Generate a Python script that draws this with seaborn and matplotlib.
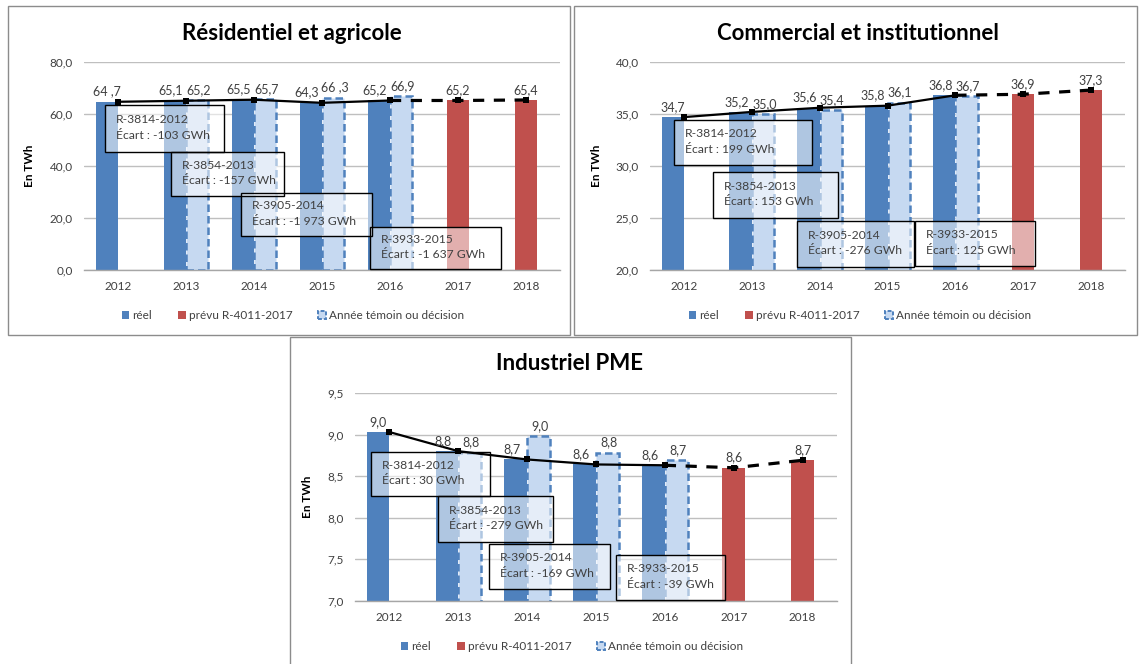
import matplotlib
matplotlib.use("Agg")
import matplotlib.pyplot as plt
from matplotlib.patches import Rectangle, Patch
import pandas as pd
import seaborn as sns

# ---- data -------------------------------------------------------------
years = ["2012", "2013", "2014", "2015", "2016", "2017", "2018"]
real_years = ["2012", "2013", "2014", "2015", "2016"]
temoin_years = ["2013", "2014", "2015", "2016"]
prevu_years = ["2017", "2018"]
dossiers = ["R-3814-2012", "R-3854-2013", "R-3905-2014", "R-3933-2015"]

# Résidentiel et agricole (TWh)
res_reel = [64.7, 65.1, 65.5, 64.3, 65.2]
res_temoin = [65.2, 65.7, 66.3, 66.9]
res_prevu = [65.2, 65.4]
res_reel_labels = ["64 ,7", "65,1", "65,5", "64,3", "65,2"]
res_temoin_labels = ["65,2", "65,7", "66 ,3", "66,9"]
res_prevu_labels = ["65,2", "65,4"]
res_ecarts = ["-103", "-157", "-1 973", "-1 637"]

# Commercial et institutionnel (TWh)
com_reel = [34.7, 35.2, 35.6, 35.8, 36.8]
com_temoin = [35.0, 35.4, 36.1, 36.7]
com_prevu = [36.9, 37.3]
com_reel_labels = ["34,7", "35,2", "35,6", "35,8", "36,8"]
com_temoin_labels = ["35,0", "35,4", "36,1", "36,7"]
com_prevu_labels = ["36,9", "37,3"]
com_ecarts = ["199", "153", "-276", "125"]

# Industriel PME (TWh)
ind_reel = [9.03, 8.80, 8.70, 8.64, 8.63]
ind_temoin = [8.78, 8.98, 8.78, 8.69]
ind_prevu = [8.60, 8.69]
ind_reel_labels = ["9,0", "8,8", "8,7", "8,6", "8,6"]
ind_temoin_labels = ["8,8", "9,0", "8,8", "8,7"]
ind_prevu_labels = ["8,6", "8,7"]
ind_ecarts = ["30", "-279", "-169", "-39"]

# ---- style ------------------------------------------------------------
sns.set_theme(style="white")
plt.rcParams["font.family"] = ["Lato", "DejaVu Sans"]

TXT = "#404040"
BLUE = "#4f81bd"
RED = "#c0504d"
LIGHT = "#c6d9f1"
GRID = "#bfbfbf"
FRAME = "#8c8c8c"

W, H = 1139, 664
fig = plt.figure(figsize=(W / 100, H / 100), dpi=100)
fig.patch.set_facecolor("white")


def fig_rect(left, top, right, bottom):
    return [left / W, 1 - bottom / H, (right - left) / W, (bottom - top) / H]


def frame(left, top, right, bottom):
    x, y, w, h = fig_rect(left, top, right, bottom)
    fig.add_artist(Rectangle((x, y), w, h, transform=fig.transFigure,
                             facecolor="none", edgecolor=FRAME, lw=1.0))


def fmt_tick(v, nd):
    return f"{v:.{nd}f}".replace(".", ",")


def panel(ax_px, title, title_xy, reel, temoin, prevu, lab_reel, lab_temoin,
          lab_prevu, ylim, ystep, ecarts, boxes_px, ylabel_x, legend_xy):
    ax = fig.add_axes(fig_rect(*ax_px))

    hist = pd.DataFrame({
        "annee": real_years + temoin_years,
        "valeur": reel + temoin,
        "serie": ["réel"] * len(reel) + ["témoin"] * len(temoin),
    })
    sns.barplot(data=hist, x="annee", y="valeur", hue="serie", order=years,
                hue_order=["réel", "témoin"],
                palette={"réel": BLUE, "témoin": LIGHT}, width=0.66,
                dodge=True, errorbar=None, legend=False, saturation=1, ax=ax)
    prev = pd.DataFrame({"annee": prevu_years, "valeur": prevu})
    sns.barplot(data=prev, x="annee", y="valeur", order=years, color=RED,
                width=0.33, errorbar=None, saturation=1, ax=ax)

    c_reel, c_tem, c_prev = ax.containers[:3]
    for b in list(c_reel) + list(c_prev):
        b.set_linewidth(0)
    for b in c_tem:
        b.set_edgecolor(BLUE)
        b.set_linewidth(1.8)
        b.set_linestyle((0, (3, 1.6)))

    # value labels above every bar; paired labels pushed slightly apart
    groups = ((c_reel, lab_reel, real_years, 0.165, -2.8),
              (c_tem, lab_temoin, temoin_years, -0.165, 1.0),
              (c_prev, lab_prevu, prevu_years, 0.0, 0.0))
    for cont, labels, yrs, shift, dx in groups:
        lab_by_year = dict(zip(yrs, labels))
        for b in cont:
            xc = b.get_x() + b.get_width() / 2
            yr = years[int(round(xc + shift))]
            paired = yr in temoin_years and yr in real_years
            ax.annotate(lab_by_year[yr], (xc, b.get_height()),
                        xytext=(dx if paired else 0, 3),
                        textcoords="offset points",
                        ha="center", va="bottom", fontsize=9, color=TXT,
                        zorder=7)

    # trend line: actuals solid, forecast dashed
    line = pd.DataFrame({"annee": real_years, "valeur": reel})
    sns.pointplot(data=line, x="annee", y="valeur", order=years,
                  color="black", marker="s", markersize=5, linewidth=1.6,
                  markeredgewidth=0, errorbar=None, zorder=6, ax=ax)
    dash = pd.DataFrame({"annee": [real_years[-1]] + prevu_years,
                         "valeur": [reel[-1]] + prevu})
    sns.pointplot(data=dash, x="annee", y="valeur", order=years,
                  color="black", marker="s", markersize=5, linewidth=2.3,
                  linestyle=(0, (3.5, 3)), markeredgewidth=0, errorbar=None,
                  zorder=6, ax=ax)

    ax.set_xlim(-0.5, 6.5)
    ax.set_ylim(*ylim)
    ticks = []
    t = ylim[0]
    while t <= ylim[1] + 1e-9:
        ticks.append(round(t, 4))
        t += ystep
    ax.set_yticks(ticks)
    ax.set_yticklabels([fmt_tick(v, 1) for v in ticks])
    ax.set_xticks(range(len(years)))
    ax.set_xticklabels(years)
    ax.yaxis.grid(True, color=GRID, lw=1.0)
    ax.set_axisbelow(True)
    for s in ("left", "right", "top"):
        ax.spines[s].set_visible(False)
    ax.spines["bottom"].set_color("#a6a6a6")
    ax.spines["bottom"].set_linewidth(1.0)
    ax.tick_params(axis="both", length=0, labelsize=8.5, colors=TXT, pad=8)
    ax.set_xlabel("")
    ax.set_ylabel("En TWh", fontsize=8.5, fontweight="bold", color="black")
    ax.yaxis.set_label_coords(ylabel_x, 0.5)

    # annotation boxes for each rate case
    for (l, t_, r, b_), dos, ec in zip(boxes_px, dossiers, ecarts):
        x, y, w, h = fig_rect(l, t_, r, b_)
        ax.add_artist(Rectangle((x, y), w, h, transform=fig.transFigure,
                                facecolor="white", alpha=0.55,
                                edgecolor="none", zorder=4, clip_on=False))
        ax.add_artist(Rectangle((x, y), w, h, transform=fig.transFigure,
                                facecolor="none", edgecolor="black", lw=1.0,
                                zorder=4.1, clip_on=False))
        ax.text((l + 11) / W, 1 - (t_ + (b_ - t_) / 2 - 1) / H,
                f"{dos}\nÉcart : {ec} GWh", transform=fig.transFigure,
                ha="left", va="center", fontsize=8.7, color=TXT,
                linespacing=1.55, zorder=4.2, clip_on=False)

    fig.text(title_xy[0] / W, 1 - title_xy[1] / H, title, ha="center",
             va="center", fontsize=16, fontweight="bold", color="black")

    handles = [Patch(facecolor=BLUE, edgecolor="none"),
               Patch(facecolor=RED, edgecolor="none"),
               Patch(facecolor=LIGHT, edgecolor=BLUE, lw=1.4,
                     linestyle=(0, (2, 1)))]
    fig.legend(handles, ["réel", "prévu R-4011-2017",
                         "Année témoin ou décision"],
               loc="center", bbox_to_anchor=(legend_xy[0] / W,
                                             1 - legend_xy[1] / H),
               ncol=3, frameon=False, fontsize=8.5, handlelength=0.65,
               handleheight=0.65, handletextpad=0.25, columnspacing=2.2,
               labelcolor=TXT)
    return ax


# panel frames
frame(8, 6, 570, 335)
frame(574, 6, 1137, 335)
frame(290, 337, 851, 670)

panel((84, 62, 560, 270), "Résidentiel et agricole", (292, 33),
      res_reel, res_temoin, res_prevu, res_reel_labels, res_temoin_labels,
      res_prevu_labels, (0, 80), 20, res_ecarts,
      [(105, 105, 224, 152), (171, 152, 284, 196),
       (241, 193, 372, 236), (370, 227, 501, 269)],
      -0.103, (293, 316))

panel((650, 62, 1125, 270), "Commercial et institutionnel", (858, 33),
      com_reel, com_temoin, com_prevu, com_reel_labels, com_temoin_labels,
      com_prevu_labels, (20, 40), 5, com_ecarts,
      [(674, 120, 812, 165), (713, 172, 838, 218),
       (797, 221, 914, 267), (915, 221, 1035, 266)],
      -0.101, (860, 316))

panel((355, 393, 837, 600.7), "Industriel PME", (570, 363),
      ind_reel, ind_temoin, ind_prevu, ind_reel_labels, ind_temoin_labels,
      ind_prevu_labels, (7.0, 9.5), 0.5, ind_ecarts,
      [(371, 452, 490, 496), (438, 496, 553, 542),
       (489, 544, 610, 589), (616, 555, 725, 600)],
      -0.088, (572, 647))

fig.savefig("out.png", dpi=100, facecolor="white")
